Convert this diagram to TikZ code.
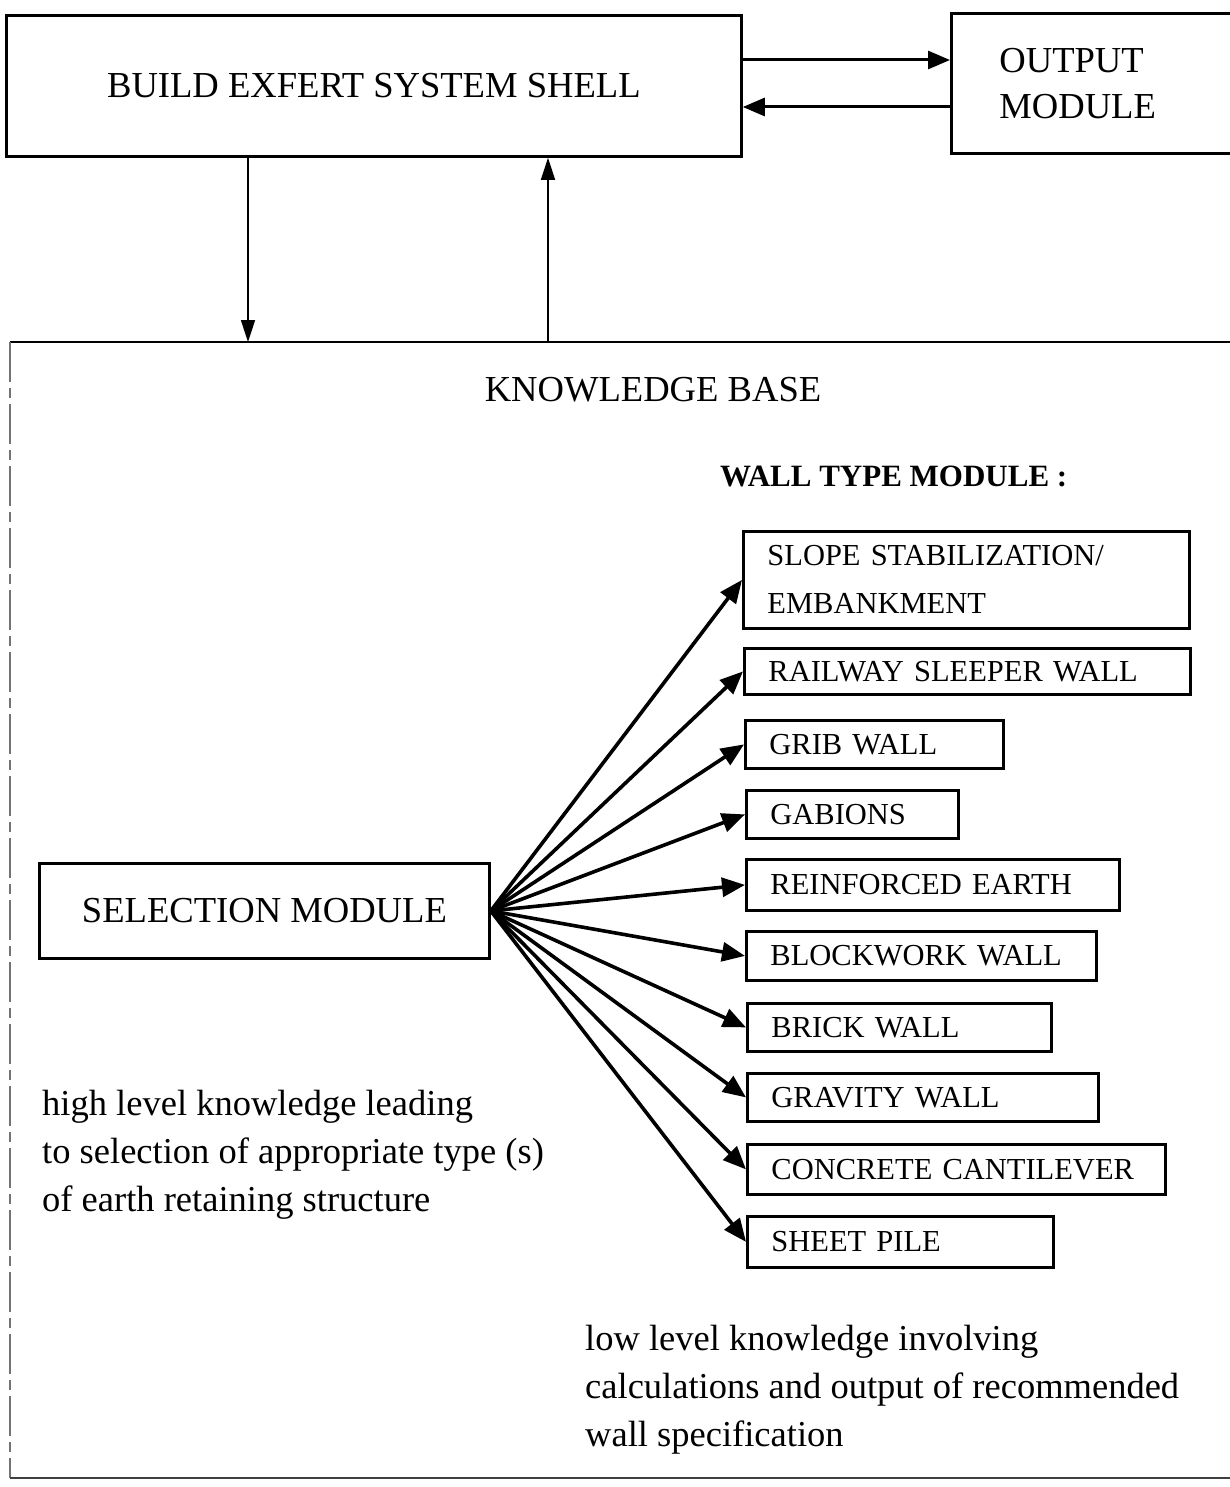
\documentclass[tikz,border=0pt]{standalone}
\usepackage{fontspec}
\setmainfont{Liberation Serif}
\usetikzlibrary{arrows.meta}
\begin{document}
\begin{tikzpicture}[x=1pt,y=-1pt,
  bigfont/.style={font=\fontsize{36.6}{46}\selectfont},
  boxline/.style={draw, line width=2.8pt},
  arr/.style={-{Triangle[length=23pt,width=19pt]}},
  thinarr/.style={-{Triangle[length=22pt,width=14pt]}, line width=1.6pt},
  toparr/.style={-{Triangle[length=22pt,width=18pt]}, line width=3pt},
  fanarr/.style={arr, line width=3.6pt},
  wbox/.style={boxline, anchor=north west, inner xsep=24pt, inner ysep=0pt,
    align=left, font=\fontsize{30.5}{48}\selectfont},
  note/.style={anchor=north west, align=left, inner sep=0pt,
    font=\fontsize{36.5}{48}\selectfont},
  faint/.style={draw=black!55, line width=1.4pt, dash pattern=on 40pt off 6pt on 10pt off 6pt}
]
\useasboundingbox[fill=white] (0,0) rectangle (1229,1487);

% top boxes
\node[boxline, bigfont, anchor=north west, minimum width=735pt, minimum height=141pt, inner sep=0pt] (build) at (5,14) {BUILD EXFERT SYSTEM SHELL};
\node[boxline, bigfont, anchor=north west, minimum width=290pt, minimum height=140pt, inner xsep=48pt, inner ysep=0pt, text width=194pt, align=left] (out) at (950,12) {OUTPUT\\MODULE};

% knowledge base container
\node[anchor=north west, minimum width=1235pt, minimum height=1136pt] (kb) at (10,342) {};
\draw[line width=2.6pt] (kb.north west) -- (kb.north east);
\draw[faint] (kb.north west) -- (kb.south west);
\draw[draw=black!75, line width=2pt] (kb.south west) -- (kb.south east);
\node[bigfont] (kbt) at (653,390) {KNOWLEDGE BASE};
\node[anchor=base west, inner sep=0pt, font=\fontsize{31}{36}\selectfont\bfseries] (wtm) at (720,486) {WALL TYPE MODULE :};

% connectors top
\coordinate (ya) at (0,60);
\coordinate (yb) at (0,107);
\coordinate (xa) at (248,0);
\coordinate (xb) at (548,0);
\draw[toparr] (build.east |- ya) -- (out.west |- ya);
\draw[toparr] (out.west |- yb) -- (build.east |- yb);
\draw[thinarr] (build.south -| xa) -- (kb.north -| xa);
\draw[thinarr] (kb.north -| xb) -- (build.south -| xb);

% selection module
\node[boxline, bigfont, anchor=north west, minimum width=450pt, minimum height=95pt, inner sep=0pt] (sel) at (38,862) {SELECTION MODULE};

% wall type boxes
\node[wbox, minimum width=446pt, minimum height=97pt, text width=398pt] (w1) at (742,530) {SLOPE STABILIZATION/\\EMBANKMENT};
\node[wbox, minimum width=446pt, minimum height=46pt, text width=398pt] (w2) at (743,647) {RAILWAY SLEEPER WALL};
\node[wbox, minimum width=258pt, minimum height=48pt, text width=210pt] (w3) at (744,719) {GRIB WALL};
\node[wbox, minimum width=212pt, minimum height=48pt, text width=164pt] (w4) at (745,789) {GABIONS};
\node[wbox, minimum width=373pt, minimum height=51pt, text width=325pt] (w5) at (745,858) {REINFORCED EARTH};
\node[wbox, minimum width=350pt, minimum height=49pt, text width=302pt] (w6) at (745,930) {BLOCKWORK WALL};
\node[wbox, minimum width=304pt, minimum height=48pt, text width=256pt] (w7) at (746,1002) {BRICK WALL};
\node[wbox, minimum width=351pt, minimum height=48pt, text width=303pt] (w8) at (746,1072) {GRAVITY WALL};
\node[wbox, minimum width=418pt, minimum height=50pt, text width=370pt] (w9) at (746,1143) {CONCRETE CANTILEVER};
\node[wbox, minimum width=306pt, minimum height=51pt, text width=258pt] (w10) at (746,1215) {SHEET PILE};

\foreach \w in {w1,w2,w3,w4,w5,w6,w7,w8,w9,w10}
  \draw[fanarr] (sel.east) -- (\w.west);

% notes
\node[note] (n1) at (42,1090) {high level knowledge leading\\to selection of appropriate type (s)\\of earth retaining structure};
\node[note] (n2) at (585,1325) {low level knowledge involving\\calculations and output of recommended\\wall specification};
\end{tikzpicture}
\end{document}
